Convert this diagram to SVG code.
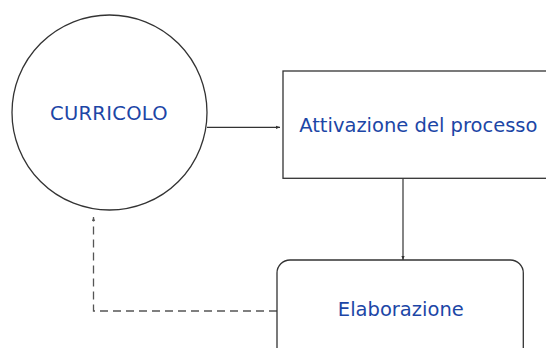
<svg xmlns="http://www.w3.org/2000/svg" width="546" height="348" viewBox="0 0 546 348">
<defs>
<marker id="ah" viewBox="0 0 10 10" refX="10" refY="5" markerWidth="4" markerHeight="4" orient="auto" markerUnits="userSpaceOnUse">
<path d="M0,1 L10,5 L0,9 z" fill="#333"/>
</marker>
<marker id="ahd" viewBox="0 0 10 10" refX="10" refY="5" markerWidth="4" markerHeight="4" orient="auto" markerUnits="userSpaceOnUse">
<path d="M0,1 L10,5 L0,9 z" fill="#555"/>
</marker>
</defs>
<style>
.shape{fill:#fff;stroke:#333;stroke-width:1.3}
.lbl{font-family:"DejaVu Sans",Verdana,sans-serif;font-size:19.5px;fill:#1C46A6;text-anchor:middle}
.conn{fill:none;stroke:#333;stroke-width:1.2}
.dash{fill:none;stroke:#555;stroke-width:1.3;stroke-dasharray:8 5}
</style>
<rect width="546" height="348" fill="#fff"/>
<g id="connectors">
<line class="conn" x1="207" y1="127.3" x2="280" y2="127.3" marker-end="url(#ah)"/>
<line class="conn" x1="403" y1="178.5" x2="403" y2="260" marker-end="url(#ah)"/>
<polyline class="dash" points="277,311 93.5,311 93.5,217" marker-end="url(#ahd)"/>
</g>
<g id="curricolo">
<circle class="shape" cx="109.5" cy="112.5" r="97.5"/>
<text class="lbl" x="109" y="120.3" letter-spacing="0.3">CURRICOLO</text>
</g>
<g id="attivazione">
<rect class="shape" x="283" y="71" width="270" height="107.3"/>
<text class="lbl" x="418.3" y="132.3">Attivazione del processo</text>
</g>
<g id="elaborazione">
<rect class="shape" x="277" y="260" width="246.3" height="110" rx="13" ry="13"/>
<text class="lbl" x="400.8" y="315.7">Elaborazione</text>
</g>
</svg>
